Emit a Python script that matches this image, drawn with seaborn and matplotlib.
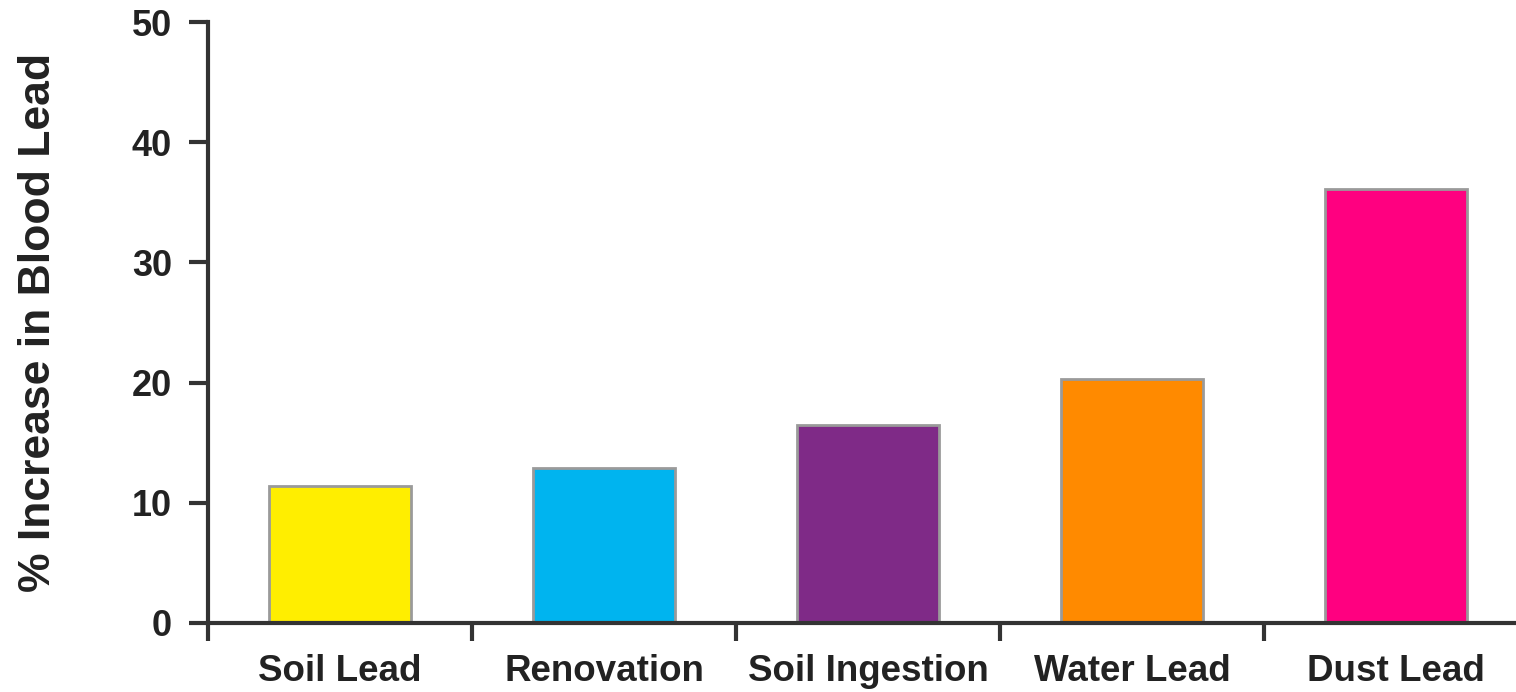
import matplotlib
matplotlib.use("Agg")
import matplotlib.pyplot as plt
import seaborn as sns
import numpy as np
from matplotlib.ticker import FixedLocator

categories = ["Soil Lead", "Renovation", "Soil Ingestion", "Water Lead", "Dust Lead"]
values = [11.4, 12.9, 16.5, 20.3, 36.1]
colors = ["#FFEE00", "#00B4EF", "#7F2A87", "#FF8A00", "#FF0080"]
y_ticks = [0, 10, 20, 30, 40, 50]
y_label = "% Increase in Blood Lead"

sns.set_theme(style="white")
plt.rcParams['font.family'] = ['Liberation Sans', 'DejaVu Sans']

W, H = 1516, 692
fig = plt.figure(figsize=(W / 100, H / 100), dpi=100)
left, right, bottom, top = 208, 1516, 623, 22
ax = fig.add_axes([left / W, (H - bottom) / H, (right - left) / W, (bottom - top) / H])

sns.barplot(x=categories, y=values, hue=categories, palette=colors, width=0.535,
            edgecolor="#9a9a9a", linewidth=2, legend=False, ax=ax, saturation=1)

ax.set_ylim(0, 50)
ax.set_xlim(-0.5, (right - left) / 264 - 0.5)

for s in ["top", "right"]:
    ax.spines[s].set_visible(False)
for s in ["left", "bottom"]:
    ax.spines[s].set_color("#333333")
    ax.spines[s].set_linewidth(3)

ax.set_yticks(y_ticks)
ax.set_yticklabels([str(v) for v in y_ticks], fontsize=26, fontweight="bold", color="#222222")
ax.tick_params(axis="y", direction="out", length=14, width=3, color="#333333", pad=12, left=True)

ax.set_xticks(np.arange(len(categories)) - 0.5)
ax.set_xticklabels([""] * len(categories))
ax.tick_params(axis="x", which="major", direction="out", length=13, width=3, color="#333333", bottom=True)
ax.xaxis.set_minor_locator(FixedLocator(np.arange(len(categories))))
ax.set_xticks(np.arange(len(categories)), labels=categories, minor=True)
ax.tick_params(axis="x", which="minor", length=0, pad=22, labelsize=26.5, labelcolor="#222222")
for t in ax.get_xticklabels(minor=True):
    t.set_fontweight("bold")

ax.set_xlabel("")
ax.set_ylabel(y_label, fontsize=32, fontweight="bold", color="#222222", labelpad=52)

fig.savefig("out.png", dpi=100)
